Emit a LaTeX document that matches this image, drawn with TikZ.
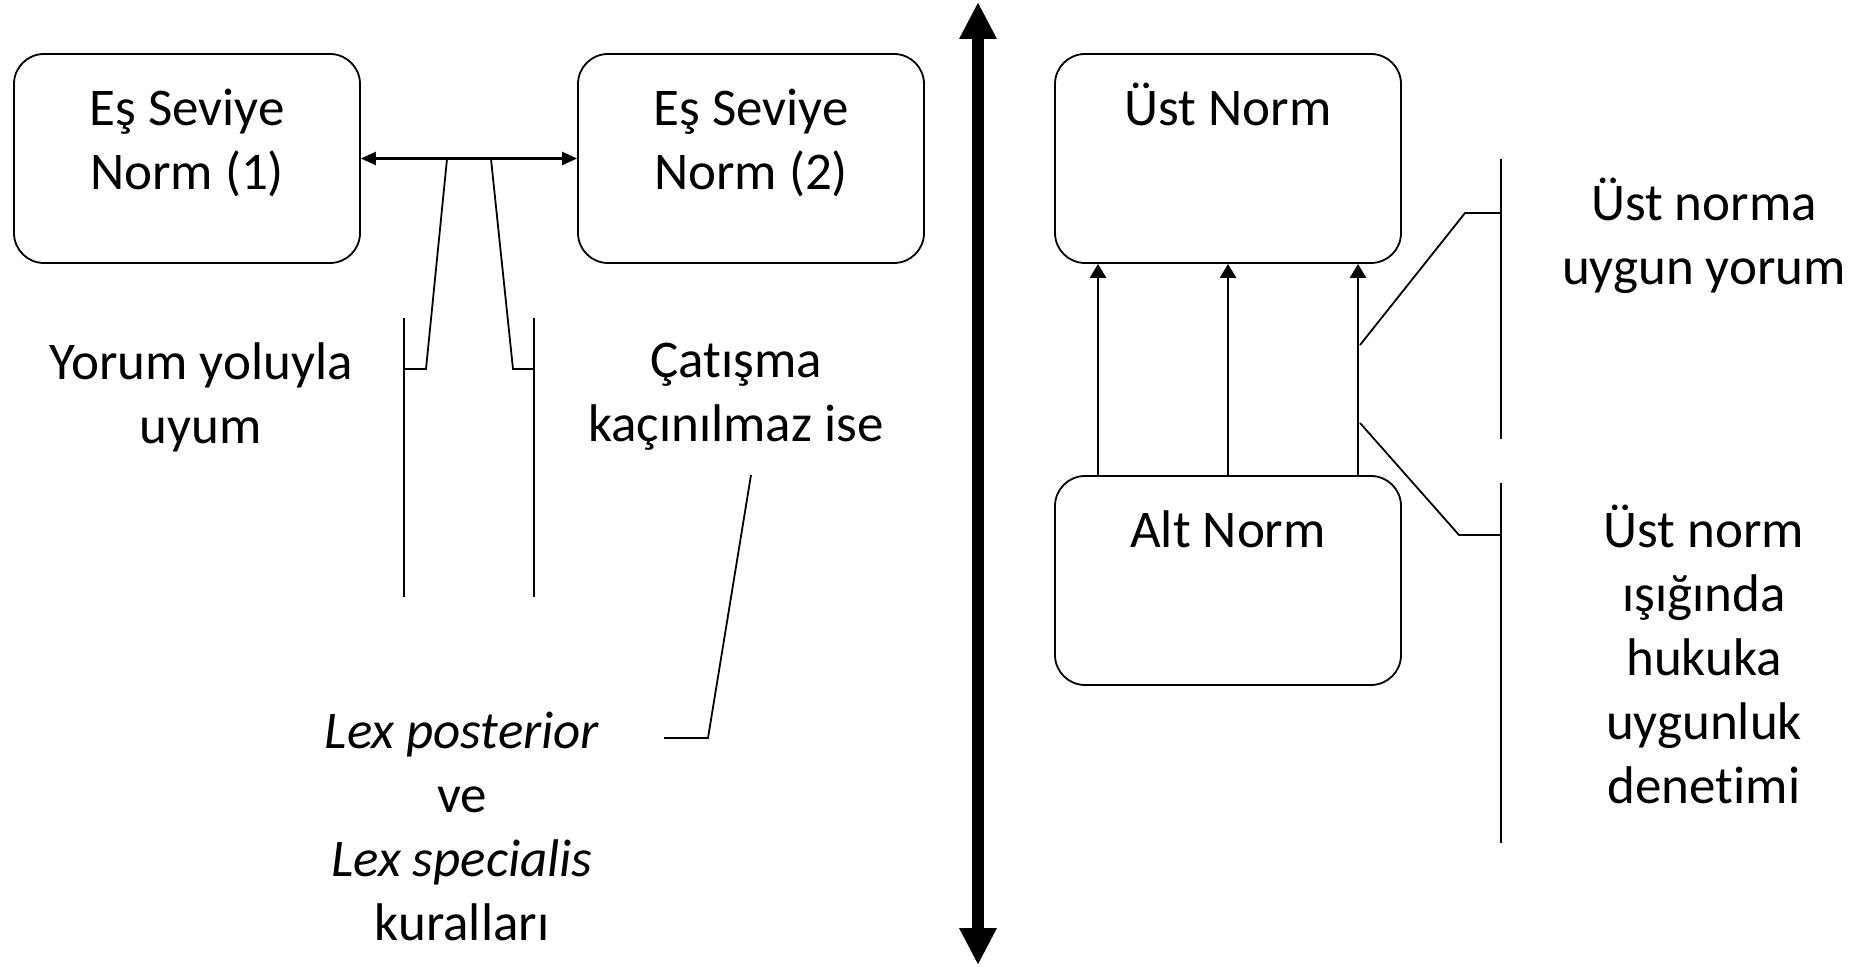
\documentclass[tikz,border=0pt]{standalone}
\usepackage{fontspec}
\setmainfont{Carlito}[Ligatures=NoCommon]
\usepackage{tikz}
\usetikzlibrary{arrows.meta,positioning}

\begin{document}
\begin{tikzpicture}[x=0.5pt, y=-0.5pt, line width=0.9pt,
  every node/.style={font=\fontsize{26.5}{32}\selectfont, align=center},
  normbox/.style={draw, rounded corners=15pt, minimum width=173pt, minimum height=104.5pt, inner sep=0pt},
  thinarrow/.style={line width=1.2pt},
  brk/.style={line width=0.9pt}]
\useasboundingbox (0,0) rectangle (1852,967);

% Equal-level norms
\node[normbox] (N1) at (187,158.5) {};
\node (N1t) at (187,143) {Eş Seviye\\Norm (1)};
\node[normbox] (N2) at (751,158.5) {};
\node (N2t) at (751,143) {Eş Seviye\\Norm (2)};
\draw[thinarrow, {Triangle[width=6.5pt,length=7.5pt]}-{Triangle[width=6.5pt,length=7.5pt]}] (N1) -- (N2);

% Brackets under the double arrow
\coordinate (YL) at (447,159);
\coordinate (YR) at (491,159);
\draw[brk] (YL) -- (426,369) -- (404,369);
\draw[brk] (404,318) -- (404,597);
\draw[brk] (YR) -- (513,369) -- (534,369);
\draw[brk] (534,318) -- (534,597);
\node (Yorum) at (201,397) {Yorum yoluyla\\uyum};
\node (Catisma) at (736,397) {Çatışma\\kaçınılmaz ise};
\draw[brk] (751,475) -- (708,738) -- (664,738);
\node (Lex) at (462,826) {\itshape Lex posterior\\ve\\\itshape Lex specialis\\kuralları};

% Dividing arrow
\coordinate (Top) at (978,2);
\coordinate (Bot) at (978,965);
\draw[line width=6pt, {Triangle[width=17.5pt,length=18.5pt]}-{Triangle[width=17.5pt,length=18.5pt]}] (Top) -- (Bot);

% Upper and lower norms
\node[normbox] (Ust) at (1228,158.5) {};
\node (Ustt) at (1228,104) {Üst Norm};
\node[normbox] (Alt) at (1228,580.5) {};
\node (Altt) at (1228,529) {Alt Norm};
\foreach \dx in {-130,0,130}
  \draw[thinarrow, -{Triangle[width=8pt,length=7pt]}] ([xshift=\dx*0.5pt]Alt.north) -- ([xshift=\dx*0.5pt]Ust.south);

% Right brackets
\draw[brk] (1360,345) -- (1465,213) -- (1501,213);
\draw[brk] (1501,159) -- (1501,439);
\draw[brk] (1360,423) -- (1459,535) -- (1501,535);
\draw[brk] (1501,483) -- (1501,843);
\node (Yorum2) at (1704,236) {Üst norma\\uygun yorum};
\node (Denetim) at (1704,654) {Üst norm\\ışığında\\hukuka\\uygunluk\\denetimi};
\end{tikzpicture}
\end{document}
